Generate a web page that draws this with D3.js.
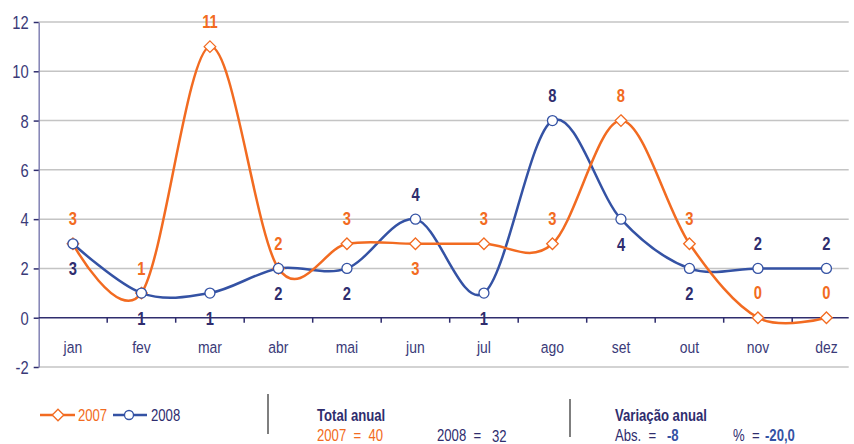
<!DOCTYPE html>
<html>
<head>
<meta charset="utf-8">
<script src="https://cdn.jsdelivr.net/npm/d3@7"></script>
<style>
  body { margin: 0; background: #fff; }
  svg text { font-family: "Liberation Sans", Arial, sans-serif; white-space: pre; }
  /* condensed look, like Arial Narrow */
  svg text.n { transform-box: fill-box; transform: scaleX(0.82); }
  svg text.n.l { transform-origin: left center; }
  svg text.n.c { transform-origin: center center; }
  svg text.n.r { transform-origin: right center; }
</style>
</head>
<body>
<div id="canvas"></div>
<script>
// DATA
const months = ["jan", "fev", "mar", "abr", "mai", "jun", "jul", "ago", "set", "out", "nov", "dez"];
const values2007 = [3, 1, 11, 2, 3, 3, 3, 3, 8, 3, 0, 0];
const values2008 = [3, 1, 1, 2, 2, 4, 1, 8, 4, 2, 2, 2];
// label placement: 1 = above the point, -1 = below
const side2007 = [1, 1, 1, 1, 1, -1, 1, 1, 1, 1, 1, 1];
const side2008 = [-1, -1, -1, -1, -1, 1, -1, 1, -1, -1, 1, 1];
const yTicks = [-2, 0, 2, 4, 6, 8, 10, 12];

const orange = "#f26b21";
const blue = "#3452a4";
const navy = "#2f2d6e";
const axisText = "#3a3a78";

function drawGraph() {
  // DIMENSIONS
  const width = 854;
  const height = 444;
  const margin = { top: 22, left: 38.7 };
  const plot_width = 822;
  const plot_height = 345;
  const grid_end = 810;

  var canvas = d3.select("#canvas")
    .append("svg")
    .attr("width", width)
    .attr("height", height);

  var plot = canvas.append("g")
    .attr("transform", `translate(${margin.left}, ${margin.top})`);

  // SCALES
  let xScale = d3.scaleBand().domain(months).range([0, plot_width]);
  let yScale = d3.scaleLinear().domain([-2, 12]).range([plot_height, 0]);
  const cx = (i) => xScale(months[i]) + xScale.bandwidth() / 2;

  // GRID
  plot.append("g")
    .selectAll("line")
    .data(yTicks.filter(d => d !== 0))
    .join("line")
    .attr("x1", 0)
    .attr("x2", grid_end)
    .attr("y1", d => yScale(d))
    .attr("y2", d => yScale(d))
    .attr("stroke", "#c4c4c4")
    .attr("stroke-width", 1.5);

  // Y AXIS
  let yAx = d3.axisLeft(yScale)
    .tickValues(yTicks)
    .tickFormat(d => String(d))
    .tickSize(5)
    .tickSizeOuter(0);
  let yAxisHolder = plot.append("g").call(yAx);
  yAxisHolder.select(".domain").attr("stroke", "#8282b4").attr("stroke-width", 1.5);
  yAxisHolder.selectAll(".tick line").attr("stroke", navy).attr("stroke-width", 1.5);
  yAxisHolder.selectAll(".tick text")
    .attr("class", "n r")
    .attr("x", -10)
    .attr("dy", "0.36em")
    .attr("fill", axisText)
    .style("font-size", "18px");

  // X AXIS at zero
  let xAxisHolder = plot.append("g")
    .attr("transform", `translate(0, ${yScale(0)})`);
  xAxisHolder.append("line")
    .attr("x1", 0).attr("x2", grid_end)
    .attr("stroke", navy).attr("stroke-width", 1.5);
  xAxisHolder.selectAll(".xtick")
    .data(months.slice(1))
    .join("line")
    .attr("class", "xtick")
    .attr("x1", d => xScale(d))
    .attr("x2", d => xScale(d))
    .attr("y1", 0).attr("y2", 5)
    .attr("stroke", navy).attr("stroke-width", 1.5);
  xAxisHolder.selectAll(".xlabel")
    .data(months)
    .join("text")
    .attr("class", "xlabel n c")
    .attr("x", d => xScale(d) + xScale.bandwidth() / 2)
    .attr("y", 35)
    .attr("text-anchor", "middle")
    .attr("fill", axisText)
    .style("font-size", "17px")
    .text(d => d);

  // LINES
  const line = d3.line()
    .x((d, i) => cx(i))
    .y(d => yScale(d))
    .curve(d3.curveCatmullRom.alpha(0));

  plot.append("path")
    .datum(values2008)
    .attr("d", line)
    .attr("fill", "none")
    .attr("stroke", blue)
    .attr("stroke-width", 2.5);

  plot.append("path")
    .datum(values2007)
    .attr("d", line)
    .attr("fill", "none")
    .attr("stroke", orange)
    .attr("stroke-width", 2.5);

  // MARKERS
  const diamond = d3.symbol().type(d3.symbolDiamond2).size(85);
  plot.append("g")
    .selectAll("path")
    .data(values2007)
    .join("path")
    .attr("d", diamond)
    .attr("transform", (d, i) => `translate(${cx(i)}, ${yScale(d)})`)
    .attr("fill", "#fff")
    .attr("stroke", orange)
    .attr("stroke-width", 1.3);

  plot.append("g")
    .selectAll("circle")
    .data(values2008)
    .join("circle")
    .attr("cx", (d, i) => cx(i))
    .attr("cy", d => yScale(d))
    .attr("r", 5)
    .attr("fill", "#fff")
    .attr("stroke", blue)
    .attr("stroke-width", 1.3);

  // DATA LABELS
  function labels(vals, sides, color) {
    plot.append("g")
      .selectAll("text")
      .data(vals)
      .join("text")
      .attr("class", "n c")
      .attr("x", (d, i) => cx(i))
      .attr("y", (d, i) => yScale(d) - sides[i] * 25)
      .attr("dy", "0.36em")
      .attr("text-anchor", "middle")
      .attr("fill", color)
      .style("font-size", "18px")
      .style("font-weight", "bold")
      .text(d => d);
  }
  labels(values2007, side2007, orange);
  labels(values2008, side2008, navy);

  // LEGEND
  const legend = canvas.append("g").attr("transform", "translate(0, 415)");
  legend.append("line").attr("x1", 40).attr("x2", 75).attr("stroke", orange).attr("stroke-width", 2.5);
  legend.append("path").attr("d", diamond).attr("transform", "translate(58, 0)")
    .attr("fill", "#fff").attr("stroke", orange).attr("stroke-width", 1.3);
  legend.append("text").attr("class", "n l").attr("x", 78).attr("dy", "0.36em").attr("fill", orange)
    .style("font-size", "16px").text("2007");
  legend.append("line").attr("x1", 113).attr("x2", 147).attr("stroke", blue).attr("stroke-width", 2.5);
  legend.append("circle").attr("cx", 129).attr("r", 4.5)
    .attr("fill", "#fff").attr("stroke", blue).attr("stroke-width", 1.3);
  legend.append("text").attr("class", "n l").attr("x", 151).attr("dy", "0.36em").attr("fill", navy)
    .style("font-size", "16px").text("2008");

  // SEPARATORS
  canvas.append("line").attr("x1", 268).attr("x2", 268).attr("y1", 394).attr("y2", 434)
    .attr("stroke", "#7f7f7f").attr("stroke-width", 2);
  canvas.append("line").attr("x1", 570).attr("x2", 570).attr("y1", 399).attr("y2", 437)
    .attr("stroke", "#7f7f7f").attr("stroke-width", 2);

  // TOTALS
  const t = canvas.append("g").style("font-size", "16px");
  const txt = (x, y, color, s, bold) => t.append("text")
    .attr("class", "n l")
    .attr("x", x).attr("y", y)
    .attr("fill", color)
    .style("font-weight", bold ? "bold" : "normal")
    .text(s);

  const total2007 = d3.sum(values2007);
  const total2008 = d3.sum(values2008);
  const abs = total2008 - total2007;
  const pct = (abs / total2007 * 100).toFixed(1).replace(".", ",");

  txt(317, 421, navy, "Total anual", true);
  txt(317, 441, orange, `2007  =  ${total2007}`);
  txt(437, 441, navy, "2008  =");
  txt(492, 442, navy, total2008);

  txt(615, 421, navy, "Variação anual", true);
  txt(615, 441, navy, "Abs.  =");
  txt(667, 441, blue, abs, true);
  txt(733, 441, navy, "%  =");
  txt(765, 441, blue, pct, true);
}

drawGraph();
</script>
</body>
</html>
